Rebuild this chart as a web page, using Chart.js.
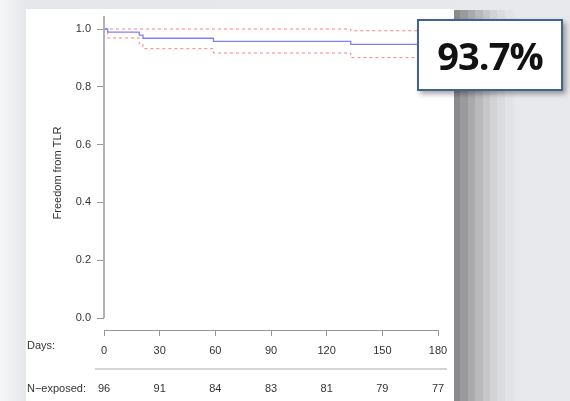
<!DOCTYPE html>
<html>
<head>
<meta charset="utf-8">
<script src="https://cdn.jsdelivr.net/npm/chart.js@4.4.0/dist/chart.umd.min.js"></script>
<style>
  html, body { margin: 0; padding: 0; }
  body {
    width: 570px; height: 401px; overflow: hidden; position: relative;
    background: linear-gradient(to right, #f5f6f8 0px, #e6e7ea 25px, #e8e9ec 100%);
  }
  #panel { position: absolute; left: 26px; top: 9px; width: 428px; height: 392px; background: #fff; }
  #shade {
    position: absolute; left: 454px; top: 10px; width: 62px; height: 391px;
    background: linear-gradient(to right,
      #8a8a8d 0px, #8a8a8d 6px, #9b9b9e 6px, #9b9b9e 14px, #aaaaad 14px, #aaaaad 21px,
      #b9b9bc 21px, #b9b9bc 29px, #c7c7ca 29px, #c7c7ca 36px, #d2d3d6 36px, #d2d3d6 43px,
      #dbdce0 43px, #dbdce0 51px, #e2e3e6 51px, #e2e3e6 59px, #e6e7ea 59px);
  }
  #wrap { position: absolute; left: 0; top: 0; width: 570px; height: 401px; }
  #badge {
    position: absolute; left: 417px; top: 19px; width: 142px; height: 68px;
    background: #fff; border: 2px solid #41638f;
    box-shadow: 3px 3px 5px rgba(0,0,0,0.35);
    font-family: "Open Sans", sans-serif; font-weight: 700; font-size: 38px;
    letter-spacing: -1px; color: #111;
    display: flex; align-items: center; justify-content: center;
  }
</style>
</head>
<body>
<div id="panel"></div>
<div id="shade"></div>
<div id="wrap"><canvas id="km" width="570" height="401"></canvas></div>
<div id="badge">93.7%</div>
<script>
// данные кривой Каплана-Мейера (дни, доля без TLR)
var survDays  = [0, 2, 19, 21, 59, 133, 180];
var survVals  = [1.0, 0.989, 0.979, 0.968, 0.957, 0.947, 0.947];
var upperDays = [0, 133, 180];
var upperVals = [1.0, 0.994, 0.994];
var lowerDays = [0, 2, 19, 21, 59, 133, 180];
var lowerVals = [1.0, 0.969, 0.949, 0.932, 0.917, 0.901, 0.901];
// оси и таблица числа под риском
var dayTicks  = [0, 30, 60, 90, 120, 150, 180];
var nExposed  = [96, 91, 84, 83, 81, 79, 77];
var yTicks    = [0, 0.2, 0.4, 0.6, 0.8, 1.0];

function pts(xs, ys) {
    return xs.map(function (x, i) { return { x: x, y: ys[i] }; });
}

var textColor = '#333';
var axisColor = '#999';
var font = { family: 'Liberation Sans, Arial, sans-serif', size: 11 };

// рисуем линию оси Y, подписи "Days:" и таблицу N-exposed
var extras = {
    id: 'extras',
    afterDraw: function (chart) {
        var ctx = chart.ctx;
        var xs = chart.scales.x, ys = chart.scales.y;
        ctx.save();
        ctx.strokeStyle = '#aaa';
        ctx.lineWidth = 1.8;
        ctx.beginPath();
        ctx.moveTo(xs.left, chart.chartArea.top);
        ctx.lineTo(xs.left, ys.getPixelForValue(0));
        ctx.stroke();

        ctx.strokeStyle = '#aaa';
        ctx.lineWidth = 1.2;
        ctx.beginPath();
        ctx.moveTo(95, 369);
        ctx.lineTo(447, 369);
        ctx.stroke();

        ctx.fillStyle = textColor;
        ctx.font = '11px ' + font.family;
        ctx.textBaseline = 'middle';
        ctx.textAlign = 'left';
        ctx.fillText('Days:', 27, 346);
        ctx.fillText('N\u2212exposed:', 27, 389);
        ctx.textAlign = 'center';
        dayTicks.forEach(function (d, i) {
            ctx.fillText(String(nExposed[i]), xs.getPixelForValue(d), 389);
        });
        ctx.restore();
    }
};

var ctx = document.getElementById('km').getContext('2d');
window.kmChart = new Chart(ctx, {
    type: 'line',
    data: {
        datasets: [
            { label: 'KM', data: pts(survDays, survVals), stepped: 'before',
              borderColor: '#8080ff', borderWidth: 1.3, pointRadius: 0, fill: false },
            { label: 'upper', data: pts(upperDays, upperVals), stepped: 'before',
              borderColor: '#ff8080', borderWidth: 1, borderDash: [3, 3], pointRadius: 0, fill: false },
            { label: 'lower', data: pts(lowerDays, lowerVals), stepped: 'before',
              borderColor: '#ff8080', borderWidth: 1, borderDash: [3, 3], pointRadius: 0, fill: false }
        ]
    },
    options: {
        responsive: false,
        animation: false,
        layout: { padding: { left: 51, top: 16, right: 132, bottom: 41 } },
        plugins: { legend: { display: false }, tooltip: { enabled: false } },
        scales: {
            x: {
                type: 'linear', min: 0, max: 180,
                border: { display: true, color: axisColor, width: 1 },
                grid: { drawOnChartArea: false, drawTicks: true, tickLength: 6, color: axisColor },
                afterBuildTicks: function (s) { s.ticks = dayTicks.map(function (v) { return { value: v }; }); },
                ticks: { color: textColor, font: font, padding: 8, maxRotation: 0, autoSkip: false },
                afterFit: function (s) { s.height = 30; }
            },
            y: {
                min: -0.0415, max: 1.045,
                border: { display: false },
                grid: { drawOnChartArea: false, drawTicks: true, tickLength: 7, color: axisColor },
                afterBuildTicks: function (s) { s.ticks = yTicks.map(function (v) { return { value: v }; }); },
                ticks: { color: textColor, font: font, padding: 6, autoSkip: false,
                         callback: function (v) { return v.toFixed(1); } },
                title: { display: true, text: 'Freedom from TLR', color: textColor, font: font, padding: 0 },
                afterFit: function (s) { s.width = 53; }
            }
        }
    },
    plugins: [extras]
});
</script>
</body>
</html>
